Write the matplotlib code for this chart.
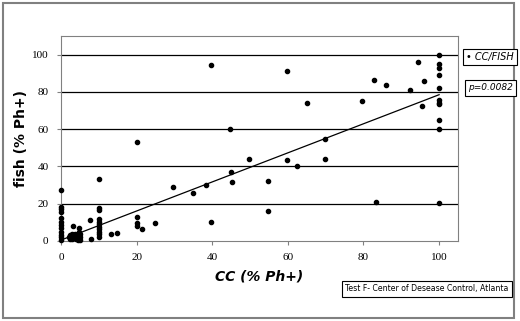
import numpy as np
import matplotlib
matplotlib.use("Agg")
import matplotlib.pyplot as plt
from matplotlib.patches import Rectangle

# CC (% Ph+) vs fish (% Ph+)
cc = [0, 0, 0, 0, 0, 0, 0, 0, 0, 0, 0, 0,
      2, 2.5, 3, 3, 3.5, 4, 4, 4.5, 5, 5, 4.8, 3.8, 2.5, 5, 3.2, 4.8,
      7.7, 7.9,
      10, 10, 10, 10, 10, 10, 10, 10, 10, 10, 10,
      13.2, 14.9, 20, 20, 20, 20, 21.3, 24.9,
      29.7, 34.8, 38.4, 39.8, 39.7, 44.8, 45, 45.2, 49.8, 54.8, 54.8,
      59.9, 59.9, 62.3, 65, 69.9, 69.9, 79.7, 82.9, 83.3, 85.9,
      92.3, 94.4, 95.5, 95.9,
      100, 100, 100, 100, 100, 100, 100, 100, 100, 100, 100]
fish = [27.1, 18.3, 17, 15.7, 12.1, 10.3, 8.6, 6.8, 5, 3.2, 2, 0.5,
        2, 3, 1, 4, 2, 3, 1, 0.5, 2, 4, 5, 3.5, 1, 0.5, 8, 7.1,
        11.2, 1.2,
        33.2, 17.5, 16.6, 11.6, 10.3, 9.1, 7.6, 6.3, 5, 3.7, 2,
        3.7, 4.3, 53.1, 13, 9.8, 8, 6.6, 9.8,
        29, 25.8, 30.3, 10.3, 94.7, 60.3, 37, 31.7, 44.2, 32, 16.2,
        91.4, 43.5, 40.2, 73.8, 54.7, 43.8, 74.9, 86.5, 20.8, 83.8,
        81.1, 95.9, 72.6, 85.6,
        100, 95, 92.9, 89.1, 82.2, 75.4, 74.3, 73.6, 65.1, 60, 20.2]

# trend line end points
fit_x = [0, 100]
fit_y = [0.5, 78.5]

xticks = [0, 20, 40, 60, 80, 100]
yticks = [0, 20, 40, 60, 80, 100]

fig = plt.figure(figsize=(5.2, 3.21), dpi=100)
fig.patches.append(Rectangle((3/520, 3/321), 511/520, 315/321, transform=fig.transFigure,
                             fill=False, edgecolor='#808080', linewidth=1.5))

ax = fig.add_axes([61/520, 80/321, 397/520, 205/321])
ax.set_xlim(0, 105)
ax.set_ylim(0, 110)
for y in yticks[1:]:
    ax.axhline(y=y, color='k', linewidth=0.9, zorder=1)
ax.plot(fit_x, fit_y, color='k', linewidth=0.9, zorder=2)
ax.plot(cc, fish, 'o', color='k', markersize=3, zorder=3, clip_on=False)

for s in ax.spines.values():
    s.set_color('#808080')
ax.set_xticks(xticks)
ax.set_yticks(yticks)
ax.tick_params(labelsize=8, length=3, color='#808080', pad=6)
for lab in ax.get_xticklabels() + ax.get_yticklabels():
    lab.set_family('Liberation Serif')

ax.set_xlabel("CC (% Ph+)", fontsize=10, fontweight='bold', style='italic', labelpad=5)
ax.set_ylabel("fish (% Ph+)", fontsize=10, fontweight='bold', labelpad=3)

fig.text(466/520, 1 - 57/321, "\u2022 CC/FISH", fontsize=7, style='italic', va='center',
         bbox=dict(boxstyle='square,pad=0.35', facecolor='white', edgecolor='k', linewidth=0.8))
fig.text(468/520, 1 - 88/321, "p=0.0082", fontsize=6.5, style='italic', va='center',
         bbox=dict(boxstyle='square,pad=0.35', facecolor='white', edgecolor='k', linewidth=0.8))
fig.text(427/520, 1 - 289/321, "Test F- Center of Desease Control, Atlanta", fontsize=5.6,
         ha='center', va='center',
         bbox=dict(boxstyle='square,pad=0.4', facecolor='white', edgecolor='k', linewidth=0.8))

fig.savefig("out.png", dpi=100)
